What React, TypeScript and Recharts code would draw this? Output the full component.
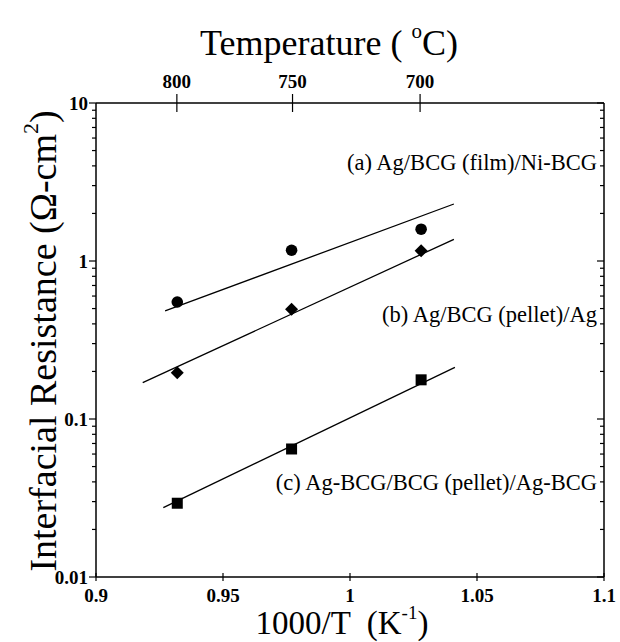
import React from 'react';
import { ComposedChart, XAxis, YAxis, Scatter, Line, Customized } from 'recharts';

// ---- data ----
const invTemp = [0.932, 0.977, 1.028]; // 1000/T (K^-1) of the measurements
const seriesA = [0.55, 1.17, 1.59]; // (a) Ag/BCG (film)/Ni-BCG
const seriesB = [0.196, 0.495, 1.16]; // (b) Ag/BCG (pellet)/Ag
const seriesC = [0.0293, 0.0646, 0.177]; // (c) Ag-BCG/BCG (pellet)/Ag-BCG

const fitAX = [0.9272, 1.0409];
const fitAY = [0.483, 2.295];
const fitBX = [0.9184, 1.0409];
const fitBY = [0.17, 1.372];
const fitCX = [0.9265, 1.0413];
const fitCY = [0.0275, 0.212];

const bottomTicks = [0.9, 0.95, 1, 1.05, 1.1];
const topTempsC = [800, 750, 700];
const majorY = [0.01, 0.1, 1, 10];
const minorMult = [2, 3, 4, 5, 6, 7, 8, 9];

const labels = ['(a) Ag/BCG (film)/Ni-BCG', '(b) Ag/BCG (pellet)/Ag', '(c) Ag-BCG/BCG (pellet)/Ag-BCG'];

// ---- derived tables ----
const toPts = (ys: number[]) => invTemp.map((x, i) => ({ x, y: ys[i] }));
const ptsA = toPts(seriesA);
const ptsB = toPts(seriesB);
const ptsC = toPts(seriesC);
const toFit = (xs: number[], ys: number[]) => xs.map((x, i) => ({ x, y: ys[i] }));
const fitA = toFit(fitAX, fitAY);
const fitB = toFit(fitBX, fitBY);
const fitC = toFit(fitCX, fitCY);

const topTicks = topTempsC.map((t) => 1000 / (t + 273.15));
const yTicks: number[] = [];
majorY.forEach((d, i) => {
  yTicks.push(d);
  if (i < majorY.length - 1) minorMult.forEach((k) => yTicks.push(d * k));
});
const isMajor = (v: number) => majorY.some((m) => Math.abs(m - v) / m < 1e-6);

const FONT = '"Liberation Serif", "Times New Roman", serif';
const TICK_FS = 19;
const W = 620;
const H = 642;
const M = { top: 102, right: 15, bottom: 64, left: 95 };

const LeftTick = (props: any) => {
  const { x, y, payload } = props;
  const major = isMajor(payload.value);
  return (
    <g>
      <line x1={x} x2={x - (major ? 7 : 4)} y1={y} y2={y} stroke="#000" strokeWidth={1.2} />
      {major && (
        <text x={x - 8} y={y} textAnchor="end" dominantBaseline="central" fontFamily={FONT} fontWeight="bold" fontSize={TICK_FS} fill="#000">
          {String(payload.value)}
        </text>
      )}
    </g>
  );
};

const RightTick = (props: any) => {
  const { x, y, payload } = props;
  const major = isMajor(payload.value);
  return <line x1={x} x2={x - (major ? 7 : 4)} y1={y} y2={y} stroke="#000" strokeWidth={1.2} />;
};

const BottomTick = (props: any) => {
  const { x, y, payload } = props;
  return (
    <g>
      <line x1={x} x2={x} y1={y - 4} y2={y + 4} stroke="#000" strokeWidth={1.2} />
      <text x={x} y={y + 18} textAnchor="middle" dominantBaseline="central" fontFamily={FONT} fontWeight="bold" fontSize={TICK_FS} fill="#000">
        {String(payload.value)}
      </text>
    </g>
  );
};

const TopTick = (props: any) => {
  const { x, y, index } = props;
  return (
    <g>
      <line x1={x} x2={x} y1={y - 9} y2={y + 9} stroke="#000" strokeWidth={1.2} />
      <text x={x} y={y - 22} textAnchor="middle" dominantBaseline="central" fontFamily={FONT} fontWeight="bold" fontSize={TICK_FS} fill="#000">
        {String(topTempsC[index])}
      </text>
    </g>
  );
};

const CircleShape = (p: any) => <circle cx={p.cx} cy={p.cy} r={5.8} fill="#000" />;
const DiamondShape = (p: any) => (
  <polygon points={`${p.cx},${p.cy - 6.5} ${p.cx + 6.5},${p.cy} ${p.cx},${p.cy + 6.5} ${p.cx - 6.5},${p.cy}`} fill="#000" />
);
const SquareShape = (p: any) => <rect x={p.cx - 5.5} y={p.cy - 5.5} width={11} height={11} fill="#000" />;

const Texts = () => (
  <g fontFamily={FONT} fill="#000">
    <text x={329} y={55} textAnchor="middle" fontSize={36}>
      <tspan>Temperature ( </tspan>
      <tspan fontSize={21} dy={-17}>o</tspan>
      <tspan dy={17}>C)</tspan>
    </text>
    <text x={342} y={634} textAnchor="middle" fontSize={33} xmlSpace="preserve">
      <tspan>1000/T  (K</tspan>
      <tspan fontSize={19} dy={-15}>-1</tspan>
      <tspan dy={15}>)</tspan>
    </text>
    <text transform="translate(56,341) rotate(-90)" textAnchor="middle" fontSize={38}>
      <tspan>Interfacial Resistance (Ω-cm</tspan>
      <tspan fontSize={22} dy={-18}>2</tspan>
      <tspan dy={18}>)</tspan>
    </text>
    <text x={597} y={170} textAnchor="end" fontSize={22.5}>{labels[0]}</text>
    <text x={597} y={322} textAnchor="end" fontSize={22.5}>{labels[1]}</text>
    <text x={597} y={490} textAnchor="end" fontSize={22.5}>{labels[2]}</text>
  </g>
);

export default function App() {
  return (
    <div style={{ position: 'absolute', left: 0, top: 0, width: W, height: H, background: '#fff' }}>
      <ComposedChart width={W} height={H} margin={M}>
        <XAxis
          xAxisId="bottom"
          dataKey="x"
          type="number"
          domain={[0.9, 1.1]}
          ticks={bottomTicks}
          interval={0}
          height={1}
          tickSize={0}
          tickMargin={0}
          tick={BottomTick}
          axisLine={{ stroke: '#000', strokeWidth: 1.5 }}
          tickLine={false}
          allowDataOverflow
        />
        <XAxis
          xAxisId="top"
          orientation="top"
          dataKey="x"
          type="number"
          domain={[0.9, 1.1]}
          ticks={topTicks}
          interval={0}
          height={1}
          tickSize={0}
          tickMargin={0}
          tick={TopTick}
          axisLine={{ stroke: '#000', strokeWidth: 1.5 }}
          tickLine={false}
          allowDataOverflow
        />
        <YAxis
          yAxisId="left"
          dataKey="y"
          type="number"
          scale="log"
          domain={[0.01, 10]}
          ticks={yTicks}
          interval={0}
          width={1}
          tickSize={0}
          tickMargin={0}
          tick={LeftTick}
          axisLine={{ stroke: '#000', strokeWidth: 1.5 }}
          tickLine={false}
          allowDataOverflow
        />
        <YAxis
          yAxisId="right"
          orientation="right"
          dataKey="y"
          type="number"
          scale="log"
          domain={[0.01, 10]}
          ticks={yTicks}
          interval={0}
          width={1}
          tickSize={0}
          tickMargin={0}
          tick={RightTick}
          axisLine={{ stroke: '#000', strokeWidth: 1.5 }}
          tickLine={false}
          allowDataOverflow
        />
        <Line xAxisId="bottom" yAxisId="left" data={fitA} dataKey="y" type="linear" stroke="#000" strokeWidth={1.3} dot={false} isAnimationActive={false} />
        <Line xAxisId="bottom" yAxisId="left" data={fitB} dataKey="y" type="linear" stroke="#000" strokeWidth={1.3} dot={false} isAnimationActive={false} />
        <Line xAxisId="bottom" yAxisId="left" data={fitC} dataKey="y" type="linear" stroke="#000" strokeWidth={1.3} dot={false} isAnimationActive={false} />
        <Scatter xAxisId="bottom" yAxisId="left" data={ptsA} dataKey="y" shape={CircleShape} isAnimationActive={false} />
        <Scatter xAxisId="bottom" yAxisId="left" data={ptsB} dataKey="y" shape={DiamondShape} isAnimationActive={false} />
        <Scatter xAxisId="bottom" yAxisId="left" data={ptsC} dataKey="y" shape={SquareShape} isAnimationActive={false} />
        <Customized component={Texts} />
      </ComposedChart>
    </div>
  );
}
